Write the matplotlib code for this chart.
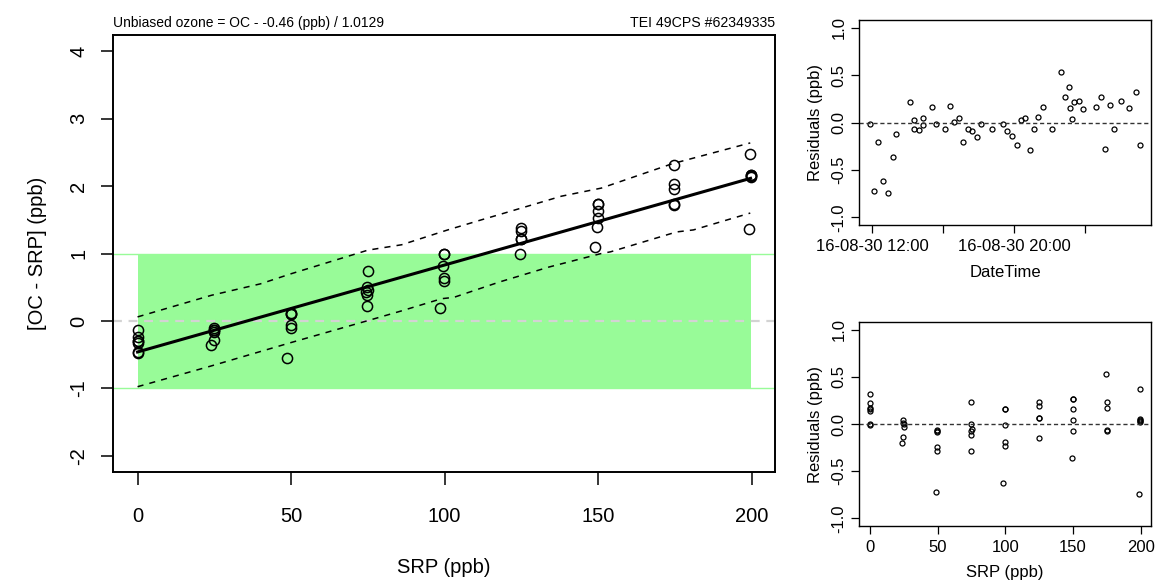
import numpy as np
import pandas as pd
import matplotlib
matplotlib.use("Agg")
import matplotlib.pyplot as plt

plt.rcParams['font.family'] = ['Liberation Sans', 'DejaVu Sans']
plt.rcParams['axes.unicode_minus'] = False

# fit from the title: OC = SRP*1.0129 + (-0.46)
INTERCEPT = -0.46
GAIN = 1.0129
TOL = 1.0
INSTRUMENT = "TEI 49CPS #62349335"

# OC - SRP vs SRP (ppb)
srp = [0.0, 0.0, 0.0, 0.0, 0.0, 0.0, 0.0,
       24.8, 24.8, 24.9, 24.9, 24.8, 23.8,
       49.8, 49.8, 49.8, 49.9, 49.9, 48.5,
       75.0, 74.8, 75.1, 74.5, 74.6, 74.8,
       99.9, 99.9, 99.6, 99.8, 99.8, 98.5,
       124.7, 124.7, 124.8, 124.8, 124.6,
       149.8, 149.8, 149.8, 149.8, 149.7, 149.0,
       174.6, 174.8, 174.8, 174.8, 174.8,
       199.5, 199.6, 199.6, 199.6, 199.6, 199.0]
diff = [-0.14, -0.24, -0.29, -0.30, -0.32, -0.46, -0.47,
        -0.10, -0.13, -0.14, -0.17, -0.28, -0.35,
        0.12, 0.11, 0.10, -0.06, -0.10, -0.55,
        0.74, 0.50, 0.46, 0.43, 0.39, 0.22,
        0.99, 0.99, 0.81, 0.64, 0.59, 0.19,
        1.38, 1.34, 1.21, 1.21, 1.00,
        1.74, 1.74, 1.63, 1.52, 1.40, 1.10,
        2.32, 2.03, 1.96, 1.73, 1.72,
        2.48, 2.17, 2.16, 2.15, 2.14, 1.37]

# dashed bounds
upper_x = [0, 24, 40, 50, 75, 86, 101, 112, 118, 138, 151, 174, 199.5]
upper_y = [0.06, 0.38, 0.55, 0.70, 1.05, 1.13, 1.35, 1.50, 1.58, 1.85, 1.97, 2.33, 2.64]
lower_x = [0, 24, 50, 75, 86, 99, 103, 118, 134, 151, 154, 175.5, 181, 199.5]
lower_y = [-0.975, -0.667, -0.32, 0.005, 0.15, 0.33, 0.35, 0.58, 0.80, 1.0, 1.025, 1.32, 1.35, 1.60]

# residuals in time order
times = ["2016-08-30 11:52", "2016-08-30 12:07", "2016-08-30 12:21", "2016-08-30 12:37",
         "2016-08-30 12:52", "2016-08-30 13:09", "2016-08-30 13:22", "2016-08-30 14:07",
         "2016-08-30 14:21", "2016-08-30 14:22", "2016-08-30 14:38", "2016-08-30 14:52",
         "2016-08-30 14:53", "2016-08-30 15:23", "2016-08-30 15:37", "2016-08-30 16:08",
         "2016-08-30 16:23", "2016-08-30 16:38", "2016-08-30 16:53", "2016-08-30 17:06",
         "2016-08-30 17:23", "2016-08-30 17:37", "2016-08-30 17:54", "2016-08-30 18:08",
         "2016-08-30 18:47", "2016-08-30 19:24", "2016-08-30 19:37", "2016-08-30 19:53",
         "2016-08-30 20:09", "2016-08-30 20:24", "2016-08-30 20:39", "2016-08-30 20:53",
         "2016-08-30 21:09", "2016-08-30 21:23", "2016-08-30 21:38", "2016-08-30 22:08",
         "2016-08-30 22:40", "2016-08-30 22:54", "2016-08-30 23:08", "2016-08-30 23:09",
         "2016-08-30 23:17", "2016-08-30 23:24", "2016-08-30 23:39", "2016-08-30 23:53",
         "2016-08-31 00:39", "2016-08-31 00:54", "2016-08-31 01:08", "2016-08-31 01:24",
         "2016-08-31 01:39", "2016-08-31 02:02", "2016-08-31 02:31", "2016-08-31 02:55",
         "2016-08-31 03:08"]
resid_time = [-0.01, -0.72, -0.20, -0.62, -0.74, -0.36, -0.12, 0.22, 0.03, -0.07,
              -0.08, 0.05, -0.03, 0.16, -0.01, -0.07, 0.17, 0.01, 0.05, -0.20,
              -0.07, -0.09, -0.15, -0.01, -0.07, -0.01, -0.09, -0.14, -0.24, 0.03,
              0.05, -0.29, -0.07, 0.06, 0.16, -0.07, 0.53, 0.27, 0.37, 0.15,
              0.04, 0.22, 0.23, 0.14, 0.16, 0.27, -0.28, 0.18, -0.07, 0.23,
              0.15, 0.32, -0.24]
time_ticks = ["2016-08-30 12:00", "2016-08-30 16:00", "2016-08-30 20:00", "2016-08-31 00:00"]
time_labels = ["16-08-30 12:00", "", "16-08-30 20:00", ""]


def r_range(lo, hi):
    pad = 0.04 * (hi - lo)
    return lo - pad, hi + pad


srp = np.array(srp)
diff = np.array(diff)
fit = INTERCEPT + (GAIN - 1) * srp
resid_srp = diff - fit

fig = plt.figure(figsize=(11.57, 5.80), dpi=100)

# main panel
ax = fig.add_axes([0.0977, 0.1862, 0.5722, 0.7534])
ax.set_xlim(r_range(srp.min(), srp.max()))
ax.set_ylim(r_range(-2, 4))
ax.add_patch(plt.Rectangle((srp.min(), -TOL), srp.max() - srp.min(), 2 * TOL,
                           facecolor="#98FB98", edgecolor="none", zorder=0))
ax.axhline(TOL, color="#98FB98", lw=1, zorder=0.5)
ax.axhline(-TOL, color="#98FB98", lw=1, zorder=0.5)
ax.axhline(0, color="#D3D3D3", lw=1.6, ls=(0, (4, 3)), zorder=0.6)
ax.plot(upper_x, upper_y, color="black", lw=1.1, ls=(0, (4, 4)))
ax.plot(lower_x, lower_y, color="black", lw=1.1, ls=(0, (4, 4)))
xl = np.array([srp.min(), srp.max()])
ax.plot(xl, INTERCEPT + (GAIN - 1) * xl, color="black", lw=2.2)
ax.plot(srp, diff, "o", mfc="none", mec="black", ms=7.3, mew=1.1)
ax.set_xticks([0, 50, 100, 150, 200])
ax.set_yticks([-2, -1, 0, 1, 2, 3, 4])
ax.tick_params(axis="both", labelsize=14.5, length=9, width=1.1)
ax.tick_params(axis="x", pad=16)
ax.tick_params(axis="y", labelrotation=90, pad=9)
for t in ax.get_yticklabels():
    t.set_va("center")
ax.set_xlabel("SRP (ppb)", fontsize=14.5, labelpad=23)
ax.set_ylabel("[OC - SRP] (ppb)", fontsize=14.5, labelpad=16)
for s in ax.spines.values():
    s.set_linewidth(1.4)
ax.text(0, 1.012, f"Unbiased ozone = OC - {INTERCEPT} (ppb) / {GAIN}",
        transform=ax.transAxes, ha="left", va="bottom", fontsize=10)
ax.text(1, 1.012, INSTRUMENT, transform=ax.transAxes, ha="right", va="bottom", fontsize=10.2)

# residuals vs time
t = pd.to_datetime(times)
th = (t - t[0]).total_seconds() / 3600.0
tt = (pd.to_datetime(time_ticks) - t[0]).total_seconds() / 3600.0
ax2 = fig.add_axes([0.7425, 0.612, 0.2524, 0.3534])
ax2.plot(th, resid_time, "o", mfc="none", mec="black", ms=3.6, mew=0.9)
ax2.axhline(0, color="#333333", lw=1, ls=(0, (3, 2)))
ax2.set_xlim(r_range(th.min(), th.max()))
ax2.set_ylim(r_range(-1, 1))
ax2.set_xticks(tt)
ax2.set_xticklabels(time_labels)
ax2.set_yticks([-1.0, -0.5, 0.0, 0.5, 1.0])
ax2.set_yticklabels(["-1.0", "-0.5", "0.0", "0.5", "1.0"])
ax2.set_xlabel("DateTime", fontsize=12, labelpad=8)
ax2.set_ylabel("Residuals (ppb)", fontsize=12, labelpad=6)

# residuals vs SRP
ax3 = fig.add_axes([0.7425, 0.0931, 0.2524, 0.3517])
ax3.plot(srp, resid_srp, "o", mfc="none", mec="black", ms=3.6, mew=0.9)
ax3.axhline(0, color="#333333", lw=1, ls=(0, (3, 2)))
ax3.set_xlim(r_range(srp.min(), srp.max()))
ax3.set_ylim(r_range(-1, 1))
ax3.set_xticks([0, 50, 100, 150, 200])
ax3.set_yticks([-1.0, -0.5, 0.0, 0.5, 1.0])
ax3.set_yticklabels(["-1.0", "-0.5", "0.0", "0.5", "1.0"])
ax3.set_xlabel("SRP (ppb)", fontsize=12, labelpad=7)
ax3.set_ylabel("Residuals (ppb)", fontsize=12, labelpad=6)

for a in (ax2, ax3):
    a.tick_params(axis="both", labelsize=12, length=6, width=0.9, pad=4)
    a.tick_params(axis="y", labelrotation=90, pad=3)
    for lab in a.get_yticklabels():
        lab.set_va("center")
    for s in a.spines.values():
        s.set_linewidth(1.0)

fig.savefig("out.png", dpi=100)
